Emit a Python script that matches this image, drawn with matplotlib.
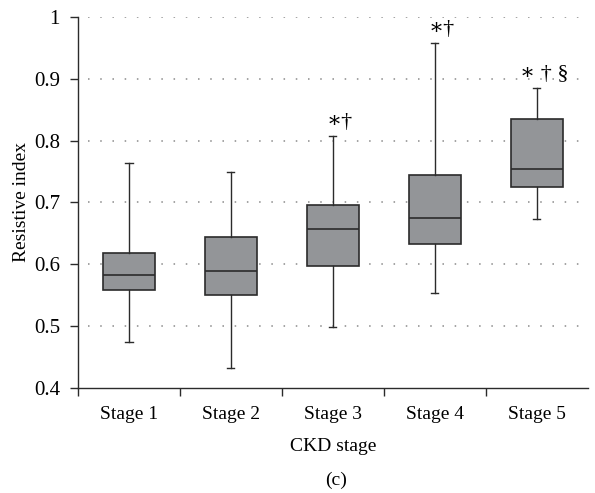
import matplotlib
matplotlib.use("Agg")
import matplotlib.pyplot as plt

# Werte
stages = ["Stage 1", "Stage 2", "Stage 3", "Stage 4", "Stage 5"]
whislo = [0.475, 0.433, 0.499, 0.553, 0.674]
q1 = [0.559, 0.551, 0.597, 0.633, 0.725]
med = [0.583, 0.589, 0.657, 0.675, 0.754]
q3 = [0.618, 0.645, 0.696, 0.745, 0.835]
whishi = [0.764, 0.749, 0.808, 0.958, 0.885]
marks = ["", "", "\u2217\u2020", "\u2217\u2020", "\u2217 \u2020 \u00a7"]

plt.rcParams['font.family'] = ['Liberation Serif', 'DejaVu Serif']

fig = plt.figure(figsize=(5.95, 4.93), dpi=100)
ax = fig.add_axes([0.131, 0.213, 0.857, 0.7525])

stats = []
for i, name in enumerate(stages):
    stats.append({'label': name, 'whislo': whislo[i], 'q1': q1[i], 'med': med[i],
                  'q3': q3[i], 'whishi': whishi[i], 'fliers': []})

positions = list(range(1, len(stages) + 1))
ax.bxp(stats, positions=positions, widths=0.51, capwidths=0.07, patch_artist=True,
       showfliers=False,
       boxprops=dict(facecolor='#939598', edgecolor='#2b2b2b', linewidth=1.2),
       medianprops=dict(color='#2b2b2b', linewidth=1.2),
       whiskerprops=dict(color='#2b2b2b', linewidth=1.0),
       capprops=dict(color='#2b2b2b', linewidth=1.0))

# Signifikanz-Markierungen
for p, top, m in zip(positions, whishi, marks):
    if m:
        ax.text(p + 0.07, top + 0.006, m, ha='center', va='bottom', fontsize=16)

ax.set_ylim(0.4, 1.0)
ax.set_xlim(0.5, 5.5)
ax.set_yticks([0.4, 0.5, 0.6, 0.7, 0.8, 0.9, 1.0])
ax.set_yticklabels(["0.4", "0.5", "0.6", "0.7", "0.8", "0.9", "1"])
for yv in [0.5, 0.6, 0.7, 0.8, 0.9, 1.0]:
    ax.axhline(yv, xmin=0.02, xmax=1.0, color='#8a8a8a', linewidth=1.1,
               linestyle=(0, (1, 7.0)), zorder=0)

ax.set_xticks([0.5, 1.5, 2.5, 3.5, 4.5])
ax.set_xticklabels([])
ax.set_xticks(positions, minor=True)
ax.set_xticklabels(stages, minor=True)
ax.tick_params(axis='x', which='minor', length=0, pad=13, labelsize=14)
ax.tick_params(axis='x', which='major', length=6, width=1, direction='out', color='#2b2b2b')
ax.tick_params(axis='y', length=6, width=1, pad=7, labelsize=15, color='#2b2b2b')

for s in ['top', 'right']:
    ax.spines[s].set_visible(False)
for s in ['left', 'bottom']:
    ax.spines[s].set_color('#2b2b2b')
    ax.spines[s].set_linewidth(1.0)

ax.set_ylabel("Resistive index", fontsize=14, labelpad=3)
ax.set_xlabel("CKD stage", fontsize=14, labelpad=11)
fig.text(0.5 * (0.131 + 0.988) + 0.005, 0.026, "(c)", ha='center', va='center', fontsize=14)

fig.savefig("out.png", dpi=100)
